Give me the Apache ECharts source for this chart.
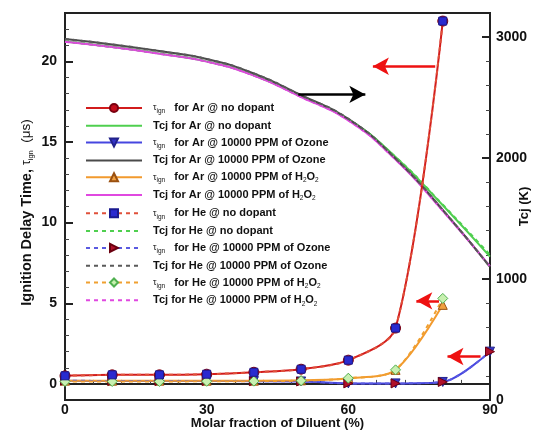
<!DOCTYPE html>
<html>
<head>
<meta charset="utf-8">
<script src="https://cdn.jsdelivr.net/npm/echarts@6/dist/echarts.min.js"></script>
<style>
  html, body { margin: 0; padding: 0; background: #fff; }
  #chart { width: 536px; height: 432px; }
</style>
</head>
<body>
<div id="chart"></div>
<script>
// Diluent molar fraction (%)
const diluent = [0, 10, 20, 30, 40, 50, 60, 70, 80, 90];

// Ignition delay times (μs)
const tauArNone  = [0.5, 0.56, 0.56, 0.6, 0.72, 0.91, 1.47, 3.46, 22.5];
const tauArOzone = [0.2, 0.18, 0.18, 0.18, 0.17, 0.15, 0.03, 0.03, 0.12, 2.0];
const tauArH2O2  = [0.2, 0.2, 0.2, 0.2, 0.2, 0.22, 0.35, 0.87, 4.9];
const tauHeNone  = [0.5, 0.56, 0.56, 0.6, 0.72, 0.91, 1.47, 3.46, 22.5];
const tauHeOzone = [0.2, 0.18, 0.18, 0.18, 0.17, 0.15, 0.03, 0.03, 0.12, 2.0];
const tauHeH2O2  = [0.15, 0.15, 0.15, 0.16, 0.17, 0.2, 0.35, 0.87, 5.3];

// Chapman-Jouguet temperatures (K)
const tcjArNone  = [2965, 2920, 2865, 2800, 2685, 2510, 2320, 2010, 1610, 1185];
const tcjArOzone = [2985, 2940, 2885, 2820, 2700, 2520, 2325, 1997, 1572, 1100];
const tcjArH2O2  = [2962, 2918, 2863, 2798, 2682, 2505, 2312, 1988, 1565, 1105];
const tcjHeNone  = [2965, 2920, 2865, 2800, 2685, 2510, 2320, 2010, 1615, 1200];
const tcjHeOzone = [2985, 2940, 2885, 2820, 2700, 2520, 2325, 1997, 1572, 1100];
const tcjHeH2O2  = [2962, 2918, 2863, 2798, 2682, 2505, 2312, 1988, 1565, 1105];

// Axis ticks
const tauMajorTicks = [0, 5, 10, 15, 20];
const tauMinorTicks = [1, 2, 3, 4, 6, 7, 8, 9, 11, 12, 13, 14, 16, 17, 18, 19, 21, 22];
const tcjMajorTicks = [0, 1000, 2000, 3000];
const tcjMinorTicks = [200, 400, 600, 800, 1200, 1400, 1600, 1800, 2200, 2400, 2600, 2800];

// Legend entries, in display order
const legendNames = [
  'τign for Ar @ no dopant',
  'Tcj for Ar @ no dopant',
  'τign for Ar @ 10000 PPM of Ozone',
  'Tcj for Ar @ 10000 PPM of Ozone',
  'τign for Ar @ 10000 PPM of H2O2',
  'Tcj for Ar @ 10000 PPM of H2O2',
  'τign for He @ no dopant',
  'Tcj for He @ no dopant',
  'τign for He @ 10000 PPM of Ozone',
  'Tcj for He @ 10000 PPM of Ozone',
  'τign for He @ 10000 PPM of H2O2',
  'Tcj for He @ 10000 PPM of H2O2'
];

const FONT = 'Arial, "Liberation Sans", sans-serif';

function pairs(vals) {
  return vals.map((v, i) => [diluent[i], v]);
}

function richName(name) {
  let out = '';
  let rest = name;
  if (rest.startsWith('τign')) {
    out += '{t|τ}{s|ign}{g| }';
    rest = rest.slice(5);
  }
  if (rest.endsWith('H2O2')) {
    out += '{b|' + rest.slice(0, -4) + 'H}{s|2}{b|O}{s|2}';
  } else {
    out += '{b|' + rest + '}';
  }
  return out;
}

function lineSeries(name, vals, axis, color, dashed, marker) {
  const s = {
    name: name,
    type: 'line',
    yAxisIndex: axis,
    data: pairs(vals),
    smooth: axis === 1 ? 0.5 : 0.3,
    lineStyle: { color: color, width: 2, type: dashed ? [4, 4] : 'solid' },
    itemStyle: { color: color },
    symbol: 'none',
    z: 2
  };
  if (marker) {
    s.symbol = marker.symbol;
    s.symbolSize = marker.size;
    s.symbolRotate = marker.rotate || 0;
    s.showSymbol = true;
    s.itemStyle = { color: marker.fill, borderColor: marker.border, borderWidth: 1 };
    s.z = 3;
  }
  return s;
}

const series = [
  // CJ temperatures (right axis)
  lineSeries('Tcj for Ar @ no dopant', tcjArNone, 1, '#4fcf4f', false),
  lineSeries('Tcj for Ar @ 10000 PPM of H2O2', tcjArH2O2, 1, '#e048e0', false),
  lineSeries('Tcj for Ar @ 10000 PPM of Ozone', tcjArOzone, 1, '#4a4a4a', false),
  lineSeries('Tcj for He @ no dopant', tcjHeNone, 1, '#4fcf4f', true),
  lineSeries('Tcj for He @ 10000 PPM of H2O2', tcjHeH2O2, 1, '#e048e0', true),
  lineSeries('Tcj for He @ 10000 PPM of Ozone', tcjHeOzone, 1, '#5a5a5a', true),
  // Ignition delay times (left axis)
  lineSeries('τign for Ar @ 10000 PPM of Ozone', tauArOzone, 0, '#4646e0', false,
    { symbol: 'triangle', size: 9, rotate: 180, fill: '#3434c8', border: '#22228a' }),
  lineSeries('τign for Ar @ 10000 PPM of H2O2', tauArH2O2, 0, '#f29a2e', false,
    { symbol: 'triangle', size: 9, fill: '#f0a040', border: '#9a5010' }),
  lineSeries('τign for Ar @ no dopant', tauArNone, 0, '#d21c1c', false,
    { symbol: 'circle', size: 10, fill: '#c40c1c', border: '#7a0010' }),
  lineSeries('τign for He @ 10000 PPM of Ozone', tauHeOzone, 0, '#5a5ae0', true,
    { symbol: 'triangle', size: 9, rotate: -90, fill: '#b0102a', border: '#6a0010' }),
  lineSeries('τign for He @ 10000 PPM of H2O2', tauHeH2O2, 0, '#f0a030', true,
    { symbol: 'diamond', size: 10, fill: '#c8f0b0', border: '#50b050' }),
  lineSeries('τign for He @ no dopant', tauHeNone, 0, '#e0503a', true,
    { symbol: 'rect', size: 8, fill: '#2a2ad0', border: '#1a1a90' })
];

// Annotation arrows (left-axis data coordinates)
series.push({
  name: 'arrows',
  type: 'line',
  yAxisIndex: 0,
  data: [],
  silent: true,
  markLine: {
    silent: true,
    symbol: ['none', 'arrow'],
    symbolSize: [13, 16],
    label: { show: false },
    lineStyle: { color: '#ee1111', width: 2.5, type: 'solid' },
    data: [
      [{ coord: [78.4, 19.7] }, { coord: [65.2, 19.7] }],
      [{ coord: [79.2, 5.15] }, { coord: [74.4, 5.15] }],
      [{ coord: [88.0, 1.7] }, { coord: [81.0, 1.7] }],
      [{ coord: [49.4, 17.95], lineStyle: { color: '#000' } }, { coord: [63.6, 17.95] }]
    ]
  }
});

// Temperature curves carry no marker in the legend, only their line
const hiddenMarker = { color: 'rgba(0,0,0,0)', borderColor: 'rgba(0,0,0,0)', borderWidth: 0 };
const legendData = legendNames.map(n => n.startsWith('Tcj') ? { name: n, itemStyle: hiddenMarker } : { name: n });

const axisLineStyle = { color: '#222', width: 2 };
const richText = {
  b: { fontFamily: FONT, fontWeight: 'bold', fontSize: 11, color: '#111', lineHeight: 14 },
  t: { fontFamily: FONT, fontSize: 9, color: '#111', lineHeight: 14 },
  s: { fontFamily: FONT, fontSize: 6.5, color: '#111', verticalAlign: 'bottom', lineHeight: 8 },
  g: { width: 9 }
};

const chart = echarts.init(document.getElementById('chart'), null, { renderer: 'canvas' });
chart.setOption({
  animation: false,
  backgroundColor: '#fff',
  grid: {
    left: 65, right: 46, top: 13, bottom: 32,
    show: true, borderColor: '#222', borderWidth: 2,
    outerBoundsMode: 'none'
  },
  legend: {
    data: legendData,
    orient: 'vertical',
    left: 80, top: 97,
    itemWidth: 56, itemHeight: 10, itemGap: 5.3,
    formatter: richName,
    textStyle: { rich: richText, fontFamily: FONT, padding: [0, 0, 0, 6] },
    selectedMode: false
  },
  xAxis: {
    type: 'value', min: 0, max: 90, interval: 30,
    axisLine: { lineStyle: axisLineStyle },
    axisTick: { inside: true, length: 8, lineStyle: { color: '#222', width: 2 } },
    minorTick: { show: true, splitNumber: 5, length: 4, lineStyle: { color: '#444', width: 1 } },
    splitLine: { show: false },
    axisLabel: { color: '#111', fontFamily: FONT, fontWeight: 'bold', fontSize: 14, margin: 3 },
    name: 'Molar fraction of Diluent (%)', nameLocation: 'middle', nameGap: 17,
    nameMoveOverlap: false,
    nameTextStyle: { color: '#111', fontFamily: FONT, fontWeight: 'bold', fontSize: 13 }
  },
  yAxis: [
    {
      type: 'value', position: 'left', min: -1, max: 23,
      axisLine: { show: true, lineStyle: axisLineStyle },
      axisTick: { show: true, inside: true, length: 8, customValues: tauMajorTicks, lineStyle: { color: '#222', width: 2 } },
      axisLabel: { customValues: tauMajorTicks, color: '#111', fontFamily: FONT, fontWeight: 'bold', fontSize: 14, margin: 8 },
      splitLine: { show: false },
      name: '{b|Ignition Delay Time, }{t|τ}{s|ign}{n|  (μs)}',
      nameLocation: 'middle', nameGap: 30, nameMoveOverlap: false,
      nameTextStyle: {
        padding: [0, 12, 0, 0],
        rich: {
          b: { fontFamily: FONT, fontWeight: 'bold', fontSize: 14.5, color: '#111', lineHeight: 17 },
          t: { fontFamily: FONT, fontSize: 12, color: '#111', lineHeight: 17 },
          s: { fontFamily: FONT, fontSize: 7.5, color: '#111', verticalAlign: 'bottom', lineHeight: 10 },
          n: { fontFamily: FONT, fontSize: 13.5, color: '#111', lineHeight: 17 }
        }
      }
    },
    {
      type: 'value', position: 'right', min: 0, max: 3200,
      axisLine: { show: true, lineStyle: axisLineStyle },
      axisTick: { show: true, inside: true, length: 8, customValues: tcjMajorTicks, lineStyle: { color: '#222', width: 2 } },
      axisLabel: { customValues: tcjMajorTicks, formatter: v => String(v), color: '#111', fontFamily: FONT, fontWeight: 'bold', fontSize: 14, margin: 6 },
      splitLine: { show: false },
      name: 'Tcj (K)', nameLocation: 'middle', nameGap: 28, nameRotate: 90, nameMoveOverlap: false,
      nameTextStyle: { color: '#111', fontFamily: FONT, fontWeight: 'bold', fontSize: 13 }
    },
    {
      type: 'value', position: 'left', min: -1, max: 23,
      axisLine: { show: false },
      axisTick: { show: true, inside: true, length: 4, customValues: tauMinorTicks, lineStyle: { color: '#444', width: 1 } },
      axisLabel: { show: false },
      splitLine: { show: false }
    },
    {
      type: 'value', position: 'right', min: 0, max: 3200,
      axisLine: { show: false },
      axisTick: { show: true, inside: true, length: 4, customValues: tcjMinorTicks, lineStyle: { color: '#444', width: 1 } },
      axisLabel: { show: false },
      splitLine: { show: false }
    }
  ],
  series: series
});
</script>
</body>
</html>
